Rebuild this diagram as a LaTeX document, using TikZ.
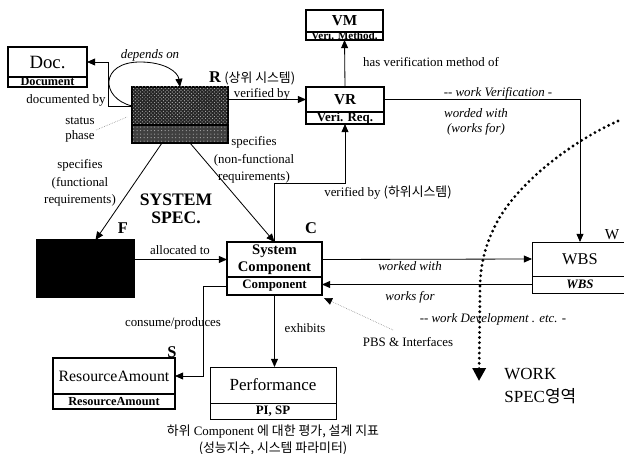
\documentclass[tikz,border=0pt]{standalone}
\usepackage{fontspec}
\setmainfont{Liberation Serif}
\newfontfamily\kr{Noto Sans CJK KR}
\usetikzlibrary{positioning,calc,arrows.meta,patterns}

\begin{document}
\begin{tikzpicture}[x=0.03cm, y=-0.03cm,
    caja/.style={draw, line width=0.9pt, inner sep=0pt, outer sep=0pt, align=center, font=\fontsize{13.5}{15}\selectfont},
    banda/.style={caja, font=\bfseries\fontsize{10.5}{11}\selectfont},
    flecha/.style={line width=0.7pt, -{Triangle[length=7pt,width=6pt]}},
    lbl/.style={inner sep=1pt, align=center, font=\fontsize{11}{13}\selectfont},
    letra/.style={inner sep=0pt, font=\bfseries\fontsize{14}{15}\selectfont}]
  \useasboundingbox (0,0) rectangle (624,454);

  % Cajas de la especificacion
  \node[caja, minimum width=2.37cm, minimum height=0.9cm, font=\fontsize{16}{17}\selectfont] (doc) at (47.5,62) {Doc.};
  \node[banda, minimum width=2.37cm, minimum height=0.3cm, below=0pt of doc] (docb) {Document};

  \node[caja, line width=1.5pt, fill=black!85, postaction={pattern=crosshatch dots, pattern color=gray!55},
    minimum width=2.88cm, minimum height=1.14cm] (req) at (180,106) {};
  \node[caja, line width=1.5pt, fill=black!75, postaction={pattern=dots, pattern color=gray!65},
    minimum width=2.88cm, minimum height=0.54cm, below=0pt of req] (reqb) {};

  \node[caja, font=\bfseries\fontsize{13}{14}\selectfont, minimum width=2.31cm, minimum height=0.66cm] (vm) at (344.5,21) {VM};
  \node[banda, font=\bfseries\fontsize{9.5}{10}\selectfont, minimum width=2.31cm, minimum height=0.24cm, below=0pt of vm] (vmb) {Veri. Method.};

  \node[caja, font=\bfseries\fontsize{13}{14}\selectfont, minimum width=2.34cm, minimum height=0.75cm] (vr) at (345,99.5) {VR};
  \node[banda, font=\bfseries\fontsize{11}{12}\selectfont, minimum width=2.34cm, minimum height=0.36cm, below=0pt of vr] (vrb) {Veri. Req.};

  \node[caja, fill=black, minimum width=2.91cm, minimum height=1.71cm] (func) at (85.5,268.5) {};

  \node[caja, line width=2.2pt, font=\bfseries\fontsize{12.5}{15}\selectfont, minimum width=2.85cm, minimum height=1.05cm] (comp) at (274.5,259.5) {System\\Component};
  \node[banda, line width=2.2pt, font=\bfseries\fontsize{11}{12}\selectfont, minimum width=2.85cm, minimum height=0.54cm, below=0pt of comp] (compb) {Component};

  \node[caja, line width=0.6pt, font=\fontsize{14}{15}\selectfont, minimum width=2.88cm, minimum height=1.02cm] (wbs) at (580,259) {WBS};
  \node[banda, line width=0.6pt, font=\bfseries\itshape\fontsize{11}{12}\selectfont, minimum width=2.88cm, minimum height=0.51cm, below=0pt of wbs] (wbsb) {WBS};

  \node[caja, line width=2.2pt, minimum width=3.66cm, minimum height=1.08cm] (ra) at (114,376) {ResourceAmount};
  \node[banda, line width=2.2pt, minimum width=3.66cm, minimum height=0.45cm, below=0pt of ra] (rab) {ResourceAmount};

  \node[caja, line width=0.6pt, font=\fontsize{14.5}{15}\selectfont, minimum width=3.78cm, minimum height=1.08cm] (perf) at (273,385) {Performance};
  \node[banda, line width=0.6pt, font=\bfseries\fontsize{11}{12}\selectfont, minimum width=3.78cm, minimum height=0.48cm, below=0pt of perf] (perfb) {PI, SP};

  % Etiquetas
  \node[lbl, font=\itshape\fontsize{11}{13}\selectfont] (depends) at (150,55) {depends on};
  \node[lbl] (docby) at (66,100) {documented by};
  \node[lbl] (status) at (80,130) {status\\phase};
  \coordinate (statpt) at (127,117);
  \node[inner sep=0pt, anchor=west, font=\fontsize{11}{13}\selectfont] (rlab) at (209,78) {{\bfseries\fontsize{14}{15}\selectfont R} {\kr (상위 시스템)}};
  \node[lbl] (verby) at (262,94) {verified by};
  \node[lbl] (hasvm) at (431,62) {has verification method of};
  \node[lbl, font=\itshape\fontsize{11}{13}\selectfont] (workver) at (498,93) {-{}- work Verification -};
  \node[lbl, font=\itshape\fontsize{11}{13}\selectfont] (worded) at (476,122) {worded with\\(works for)};
  \node[lbl] (verbysub) at (388,193) {verified by {\kr (하위시스템)}};
  \node[lbl, font=\fontsize{11}{15}\selectfont] (specf) at (80,183) {specifies\\(functional\\requirements)};
  \node[lbl, font=\fontsize{11}{15}\selectfont] (specc) at (254,160) {specifies\\(non-functional\\requirements)};
  \node[lbl, font=\bfseries\fontsize{15}{15.5}\selectfont] (sysspec) at (176,209) {SYSTEM\\SPEC.};
  \node[letra] (flab) at (123,228) {F};
  \node[letra] (clab) at (311,228) {C};
  \node[letra] (slab) at (172,352) {S};
  \node[inner sep=0pt, font=\fontsize{13}{14}\selectfont] (wlab) at (612,235) {W};
  \node[lbl] (alloc) at (180,250) {allocated to};
  \node[lbl, font=\itshape\fontsize{11}{13}\selectfont] (workedw) at (410,266) {worked with};
  \node[lbl, font=\itshape\fontsize{11}{13}\selectfont] (worksf) at (410,297) {works for};
  \node[lbl, font=\itshape\fontsize{11}{13}\selectfont] (workdev) at (493,319) {-{}- work Development . etc. -};
  \node[lbl] (pbs) at (408,342) {PBS \& Interfaces};
  \node[lbl] (consume) at (173,323) {consume/produces};
  \node[lbl] (exhib) at (305,328) {exhibits};
  \node[lbl, font=\fontsize{11}{14.5}\selectfont] (eval) at (273,440) {{\kr 하위} Component {\kr 에 대한 평가, 설계 지표}\\{\kr (성능지수, 시스템 파라미터)}};
  \node[lbl, anchor=west, align=left, font=\fontsize{14.5}{19}\selectfont] (workspec) at (503,386) {WORK\\SPEC{\kr 영역}};

  % Relaciones
  \draw[flecha] (req.west) -- ++(-24,0) |- (doc.east);
  \draw[flecha] (req.west) .. controls (100,98) and (100,62) .. (140,62) .. controls (165,62) and (178,72) .. (req.north);
  \draw[gray, densely dotted, line width=0.5pt] (status.east) -- (statpt);
  \draw[flecha] (req.east |- vr.west) -- (vr.west);
  \draw[flecha] (vr.north) -- (vmb.south);
  \draw[flecha] (vr.east) -| (wbs.north);
  \draw[flecha] (comp.north) -- ++(0,-59) -| (vrb.south);
  \draw[flecha] ($(reqb.south)+(-18,0)$) -- ($(func.north)+(10,0)$);
  \draw[flecha] ($(reqb.south)+(10,0)$) -- (comp.north);
  \draw[flecha] (func.east |- comp.west) -- (comp.west);
  \draw[flecha] (comp.east) -- (wbs.west);
  \draw[flecha] (wbsb.west) -- (wbsb.west -| compb.east);
  \draw[flecha] (compb.west) -- ++(-24,0) |- (ra.east);
  \draw[flecha] (compb.south) -- (compb.south |- perf.north);
  \draw[gray, densely dotted, line width=0.5pt, -{Triangle[length=7pt,width=6pt,color=black]}]
    ($(pbs.north)+(-15,-6)$) -- ($(compb.south east)+(2,3)$);

  % Frontera WORK SPEC
  \draw[line width=2.7pt, line cap=round, dash pattern=on 0pt off 4.4pt, -{Triangle[length=11pt,width=11pt]}]
    (618,121) .. controls (575,140) and (520,180) .. (497,222)
    .. controls (485,245) and (480,265) .. (480,290) -- (479,381);
\end{tikzpicture}
\end{document}
